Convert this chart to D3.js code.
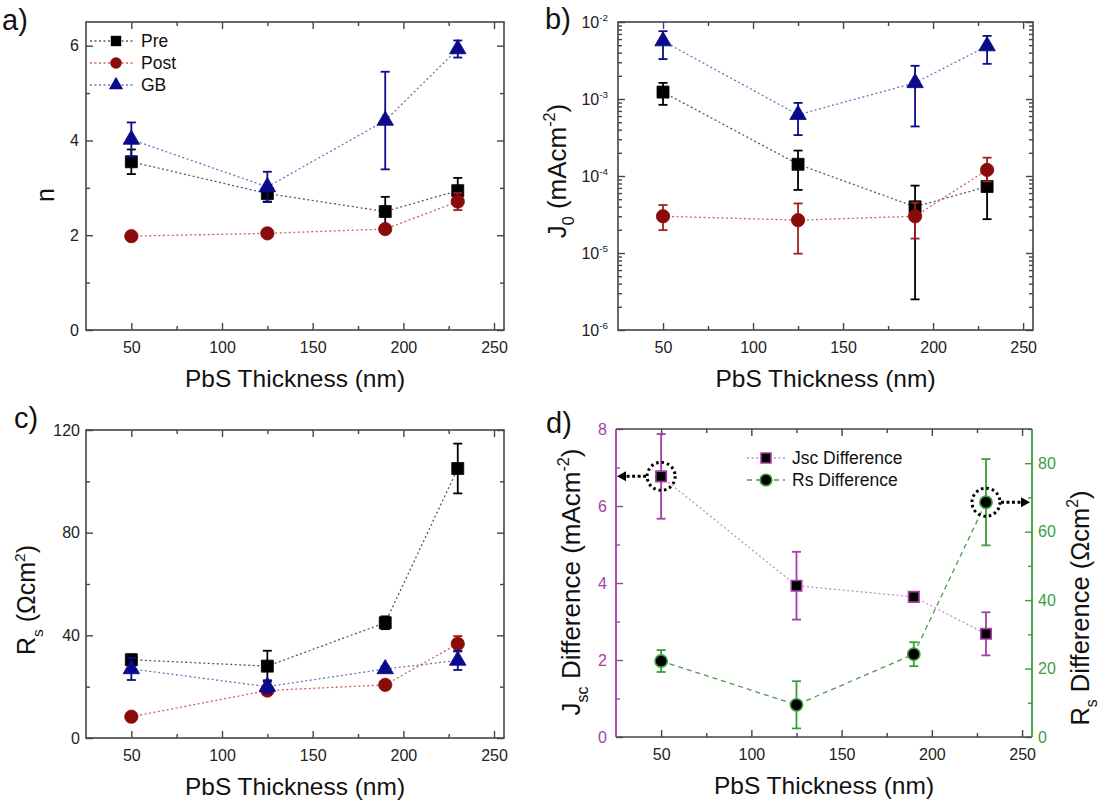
<!DOCTYPE html>
<html><head><meta charset="utf-8">
<script src="https://cdn.jsdelivr.net/npm/d3@7"></script>
<style>body{margin:0;background:#fff}svg{display:block}</style>
</head><body><svg id="c" width="1105" height="807"></svg>
<script>
// ---------------- data ----------------
const thickness = [50, 125, 190, 230];
const xTicks = [50, 100, 150, 200, 250];
const xMinor = [75, 125, 175, 225];

// a) ideality factor n
const nTicks = [0, 2, 4, 6];
const nMinor = [1, 3, 5];
const nPre = [3.55, 2.88, 2.50, 2.94];
const nPreErr = [0.26, 0.17, 0.31, 0.27];
const nPost = [1.98, 2.04, 2.13, 2.71];
const nPostErr = [0.05, 0.08, 0.08, 0.18];
const nGB = [4.02, 3.02, 4.42, 5.93];
const nGBErr = [0.36, 0.32, 1.03, 0.18];

// b) J0 (log), asymmetric error bars
const j0Ticks = [1e-6, 1e-5, 1e-4, 1e-3, 1e-2];
const j0TickExp = ["-6", "-5", "-4", "-3", "-2"];
const j0Pre = [1.23e-3, 1.42e-4, 3.98e-5, 7.3e-5];
const j0PreLo = [8.4e-4, 6.6e-5, 2.5e-6, 2.75e-5];
const j0PreHi = [1.62e-3, 2.14e-4, 7.5e-5, 1.2e-4];
const j0Post = [3.0e-5, 2.67e-5, 3.0e-5, 1.2e-4];
const j0PostLo = [1.98e-5, 9.8e-6, 1.54e-5, 8.5e-5];
const j0PostHi = [4.2e-5, 4.4e-5, 4.5e-5, 1.73e-4];
const j0GB = [5.65e-3, 6.25e-4, 1.62e-3, 4.87e-3];
const j0GBLo = [3.3e-3, 3.4e-4, 4.4e-4, 2.86e-3];
const j0GBHi = [7.6e-3, 8.9e-4, 2.7e-3, 6.6e-3];

// c) Rs
const rsTicks = [0, 40, 80, 120];
const rsMinor = [20, 60, 100];
const rsPre = [30.5, 28.0, 44.9, 105];
const rsPreErr = [2, 6, 2.5, 9.7];
const rsPost = [8.3, 18.5, 20.7, 36.7];
const rsPostErr = [0.8, 1, 1, 3];
const rsGB = [26.9, 20, 26.9, 30.2];
const rsGBErr = [4.3, 2.5, 1, 3.7];

// d) differences
const jscTicks = [0, 2, 4, 6, 8];
const jscMinor = [1, 3, 5, 7];
const rsDiffTicks = [0, 20, 40, 60, 80];
const rsDiffMinor = [10, 30, 50, 70, 90];
const jscDiff = [6.77, 3.93, 3.64, 2.68];
const jscDiffErr = [1.1, 0.88, 0.05, 0.56];
const rsDiff = [22.2, 9.4, 24.2, 68.6];
const rsDiffErr = [3.2, 6.9, 3.5, 12.6];

// ---------------- style ----------------
const FF = '"Liberation Sans", Arial, Helvetica, sans-serif';
const FRAME = "#444";
const C = {
  pre: "#000000", preLine: "#5a5a5a",
  post: "#8b0a0a", postErr: "#a02020", postLine: "#d06060",
  gb: "#0a0a8c", gbLine: "#6f72b8",
  purple: "#a43ea8", purpleLine: "#c98ccb",
  green: "#3a9e3a", greenLine: "#4a9a4a"
};
const svg = d3.select("#c").attr("font-family", FF);

function rich(g, x, y, parts, F, opts = {}) {
  const t = g.append("text").attr("x", x).attr("y", y).attr("font-size", F)
    .attr("text-anchor", opts.anchor || "start").attr("fill", opts.fill || "#111");
  if (opts.rotate) t.attr("transform", `rotate(${opts.rotate},${x},${y})`);
  let shift = 0;
  parts.forEach(([s, type]) => {
    const sp = t.append("tspan").text(s);
    const target = type === "sub" ? 0.3 * F : type === "sup" ? -0.42 * F : 0;
    sp.attr("dy", target - shift); shift = target;
    if (type) sp.attr("font-size", 0.62 * F);
  });
  return t;
}

function styleAxis(sel, color, textColor) {
  sel.select(".domain").remove();
  sel.attr("font-family", FF).attr("font-size", 16);
  sel.selectAll("line").attr("stroke", color).attr("stroke-width", 1.4);
  sel.selectAll("text").attr("fill", textColor || "#222");
}

function xAxes(g, x, T, B) {
  g.append("g").attr("transform", `translate(0,${B})`)
    .call(d3.axisBottom(x).tickValues(xTicks).tickSizeInner(-7).tickSizeOuter(0).tickPadding(12))
    .call(s => styleAxis(s, FRAME));
  g.append("g").attr("transform", `translate(0,${B})`)
    .call(d3.axisBottom(x).tickValues(xMinor).tickSizeInner(-4).tickSizeOuter(0).tickFormat(""))
    .call(s => styleAxis(s, FRAME));
  g.append("g").attr("transform", `translate(0,${T})`)
    .call(d3.axisTop(x).tickValues(xTicks).tickSizeInner(-7).tickSizeOuter(0).tickFormat(""))
    .call(s => styleAxis(s, FRAME));
  g.append("g").attr("transform", `translate(0,${T})`)
    .call(d3.axisTop(x).tickValues(xMinor).tickSizeInner(-4).tickSizeOuter(0).tickFormat(""))
    .call(s => styleAxis(s, FRAME));
}

function yAxesLin(g, y, L, R, ticks, minor, opts = {}) {
  const lc = opts.leftColor || FRAME, rc = opts.rightColor || FRAME;
  g.append("g").attr("transform", `translate(${L},0)`)
    .call(d3.axisLeft(y).tickValues(ticks).tickSizeInner(-7).tickSizeOuter(0).tickPadding(opts.pad || 7).tickFormat(d3.format("d")))
    .call(s => styleAxis(s, lc, opts.leftText));
  g.append("g").attr("transform", `translate(${L},0)`)
    .call(d3.axisLeft(y).tickValues(minor).tickSizeInner(-4).tickSizeOuter(0).tickFormat(""))
    .call(s => styleAxis(s, lc));
  if (!opts.noRight) {
    g.append("g").attr("transform", `translate(${R},0)`)
      .call(d3.axisRight(y).tickValues(ticks).tickSizeInner(-7).tickSizeOuter(0).tickFormat(""))
      .call(s => styleAxis(s, rc));
    g.append("g").attr("transform", `translate(${R},0)`)
      .call(d3.axisRight(y).tickValues(minor).tickSizeInner(-4).tickSizeOuter(0).tickFormat(""))
      .call(s => styleAxis(s, rc));
  }
}

function frame(g, L, R, T, B) {
  g.append("rect").attr("x", L).attr("y", T).attr("width", R - L).attr("height", B - T)
    .attr("fill", "none").attr("stroke", FRAME).attr("stroke-width", 1.6);
}

function series(g, x, y, vals, lo, hi, o) {
  const pts = thickness.map((t, i) => ({ x: t, y: vals[i], lo: lo[i], hi: hi[i] }));
  g.append("path").datum(pts)
    .attr("d", d3.line().x(d => x(d.x)).y(d => y(d.y)))
    .attr("fill", "none").attr("stroke", o.line).attr("stroke-width", 1.3)
    .attr("stroke-dasharray", o.dash || "2,2.5");
  const eb = g.append("g").attr("stroke", o.err).attr("stroke-width", 1.8);
  pts.forEach(d => {
    eb.append("line").attr("x1", x(d.x)).attr("x2", x(d.x)).attr("y1", y(d.lo)).attr("y2", y(d.hi));
    [d.lo, d.hi].forEach(v => eb.append("line").attr("x1", x(d.x) - 4.5).attr("x2", x(d.x) + 4.5).attr("y1", y(v)).attr("y2", y(v)));
  });
  g.append("g").selectAll("path").data(pts).join("path")
    .attr("transform", d => `translate(${x(d.x)},${y(d.y)})`)
    .attr("d", d3.symbol(o.symbol).size(o.size))
    .attr("fill", o.fill).attr("stroke", o.stroke || o.fill).attr("stroke-width", o.sw || 0.8);
}
function sym(vals, err) { return [vals.map((v, i) => v - err[i]), vals.map((v, i) => v + err[i])]; }

const PRE = { symbol: d3.symbolSquare, size: 144, fill: C.pre, err: C.pre, line: C.preLine };
const POST = { symbol: d3.symbolCircle, size: 140, fill: C.post, err: C.postErr, line: C.postLine };
const GB = { symbol: d3.symbolTriangle, size: 118, fill: C.gb, err: C.gb, line: C.gbLine };

function xTitle(g, L, R, B) {
  g.append("text").attr("x", (L + R) / 2).attr("y", B + 57).attr("text-anchor", "middle")
    .attr("font-size", 24.5).attr("fill", "#111").text("PbS Thickness (nm)");
}
function panelLabel(g, x, y, s) {
  g.append("text").attr("x", x).attr("y", y).attr("font-size", 29).attr("fill", "#111").text(s);
}

// ---------------- panel a ----------------
{
  const L = 86, R = 504, T = 22, B = 330;
  const g = svg.append("g");
  const x = d3.scaleLinear().domain([25, 255.5]).range([L, R]);
  const y = d3.scaleLinear().domain([0, 6.5]).range([B, T]);
  xAxes(g, x, T, B);
  yAxesLin(g, y, L, R, nTicks, nMinor, { pad: 7 });
  frame(g, L, R, T, B);
  series(g, x, y, nPre, ...sym(nPre, nPreErr), PRE);
  series(g, x, y, nPost, ...sym(nPost, nPostErr), POST);
  series(g, x, y, nGB, ...sym(nGB, nGBErr), GB);
  xTitle(g, L, R, B);
  g.append("text").attr("transform", "translate(54,195) rotate(-90)").attr("text-anchor", "middle")
    .attr("font-size", 25).attr("fill", "#111").text("n");
  panelLabel(g, 2, 30, "a)");
  // legend
  const leg = [["Pre", PRE, 41], ["Post", POST, 63], ["GB", GB, 85]];
  leg.forEach(([name, o, yy]) => {
    g.append("line").attr("x1", 90).attr("x2", 135).attr("y1", yy).attr("y2", yy)
      .attr("stroke", o.line).attr("stroke-width", 1.3).attr("stroke-dasharray", "2,2.5");
    g.append("path").attr("transform", `translate(116,${yy})`)
      .attr("d", d3.symbol(o.symbol).size(o.size * 0.75)).attr("fill", o.fill);
    g.append("text").attr("x", 141).attr("y", yy + 6).attr("font-size", 17.5).attr("fill", "#111").text(name);
  });
}

// ---------------- panel b ----------------
{
  const L = 618, R = 1033, T = 22, B = 330;
  const g = svg.append("g");
  const x = d3.scaleLinear().domain([25, 255.5]).range([L, R]);
  const y = d3.scaleLog().domain([1e-6, 1e-2]).range([B, T]);
  xAxes(g, x, T, B);
  const minorLog = [];
  for (let e = -6; e < -2; e++) for (let m = 2; m <= 9; m++) minorLog.push(m * Math.pow(10, e));
  [[L, d3.axisLeft], [R, d3.axisRight]].forEach(([pos, ax]) => {
    g.append("g").attr("transform", `translate(${pos},0)`)
      .call(ax(y).tickValues(j0Ticks).tickSizeInner(-7).tickSizeOuter(0).tickFormat(""))
      .call(s => styleAxis(s, FRAME));
    g.append("g").attr("transform", `translate(${pos},0)`)
      .call(ax(y).tickValues(minorLog).tickSizeInner(-4).tickSizeOuter(0).tickFormat(""))
      .call(s => styleAxis(s, FRAME));
  });
  j0Ticks.forEach((v, i) => {
    rich(g, L - 10, y(v) + 6, [["10", ""], [j0TickExp[i], "sup"]], 16, { anchor: "end", fill: "#222" });
  });
  frame(g, L, R, T, B);
  series(g, x, y, j0Pre, j0PreLo, j0PreHi, PRE);
  series(g, x, y, j0Post, j0PostLo, j0PostHi, POST);
  series(g, x, y, j0GB, j0GBLo, j0GBHi, GB);
  xTitle(g, L, R, B);
  rich(g, 566, 171, [["J", ""], ["0", "sub"], [" (mAcm", ""], ["-2", "sup"], [")", ""]], 26, { anchor: "middle", rotate: -90 });
  panelLabel(g, 545, 29, "b)");
}

// ---------------- panel c ----------------
{
  const L = 86, R = 504, T = 430, B = 738;
  const g = svg.append("g");
  const x = d3.scaleLinear().domain([25, 255.5]).range([L, R]);
  const y = d3.scaleLinear().domain([0, 120]).range([B, T]);
  xAxes(g, x, T, B);
  yAxesLin(g, y, L, R, rsTicks, rsMinor, { pad: 6 });
  frame(g, L, R, T, B);
  series(g, x, y, rsPre, ...sym(rsPre, rsPreErr), PRE);
  series(g, x, y, rsPost, ...sym(rsPost, rsPostErr), POST);
  series(g, x, y, rsGB, ...sym(rsGB, rsGBErr), GB);
  xTitle(g, L, R, B);
  rich(g, 35, 600, [["R", ""], ["s", "sub"], [" (Ωcm", ""], ["2", "sup"], [")", ""]], 25, { anchor: "middle", rotate: -90 });
  panelLabel(g, 14, 428, "c)");
}

// ---------------- panel d ----------------
{
  const L = 616, R = 1032, T = 429, B = 737;
  const g = svg.append("g");
  const x = d3.scaleLinear().domain([25, 255.5]).range([L, R]);
  const yL = d3.scaleLinear().domain([0, 8]).range([B, T]);
  const yR = d3.scaleLinear().domain([0, 90]).range([B, T]);
  xAxes(g, x, T, B);
  yAxesLin(g, yL, L, R, jscTicks, jscMinor, { pad: 9, leftColor: C.purple, leftText: C.purple, noRight: true });
  g.append("g").attr("transform", `translate(${R},0)`)
    .call(d3.axisRight(yR).tickValues(rsDiffTicks).tickSizeInner(-7).tickSizeOuter(0).tickPadding(6))
    .call(s => styleAxis(s, C.green, C.green));
  g.append("g").attr("transform", `translate(${R},0)`)
    .call(d3.axisRight(yR).tickValues(rsDiffMinor).tickSizeInner(-4).tickSizeOuter(0).tickFormat(""))
    .call(s => styleAxis(s, C.green));
  // frame: top/bottom gray, left purple, right green
  g.append("line").attr("x1", L).attr("x2", R).attr("y1", T).attr("y2", T).attr("stroke", FRAME).attr("stroke-width", 1.6);
  g.append("line").attr("x1", L).attr("x2", R).attr("y1", B).attr("y2", B).attr("stroke", FRAME).attr("stroke-width", 1.6);
  g.append("line").attr("x1", L).attr("x2", L).attr("y1", T).attr("y2", B).attr("stroke", C.purple).attr("stroke-width", 1.8);
  g.append("line").attr("x1", R).attr("x2", R).attr("y1", T).attr("y2", B).attr("stroke", C.green).attr("stroke-width", 1.8);

  const JSC = { symbol: d3.symbolSquare, size: 110, fill: "#000", stroke: C.purple, sw: 1.6, err: C.purple, line: C.purpleLine };
  const RSD = { symbol: d3.symbolCircle, size: 118, fill: "#000", stroke: C.green, sw: 1.6, err: C.green, line: C.greenLine, dash: "5,4" };
  series(g, x, yR, rsDiff, ...sym(rsDiff, rsDiffErr), RSD);
  series(g, x, yL, jscDiff, ...sym(jscDiff, jscDiffErr), JSC);

  // highlight circles and arrows
  const cx1 = x(thickness[0]), cy1 = yL(jscDiff[0]);
  const cx2 = x(thickness[3]), cy2 = yR(rsDiff[3]);
  [[cx1, cy1], [cx2, cy2]].forEach(([cx, cy]) => {
    g.append("circle").attr("cx", cx).attr("cy", cy).attr("r", 14).attr("fill", "none")
      .attr("stroke", "#000").attr("stroke-width", 3).attr("stroke-dasharray", "2.5,3");
  });
  g.append("line").attr("x1", cx1 - 15).attr("x2", L + 8).attr("y1", cy1).attr("y2", cy1)
    .attr("stroke", "#000").attr("stroke-width", 3).attr("stroke-dasharray", "3,2.5");
  g.append("path").attr("d", `M${L + 1},${cy1} L${L + 10},${cy1 - 5} L${L + 10},${cy1 + 5} Z`).attr("fill", "#000");
  g.append("line").attr("x1", cx2 + 15).attr("x2", R - 8).attr("y1", cy2).attr("y2", cy2)
    .attr("stroke", "#000").attr("stroke-width", 3).attr("stroke-dasharray", "3,2.5");
  g.append("path").attr("d", `M${R - 2},${cy2} L${R - 11},${cy2 - 5} L${R - 11},${cy2 + 5} Z`).attr("fill", "#000");

  // legend
  const leg = [["Jsc Difference", JSC, 458], ["Rs Difference", RSD, 480]];
  leg.forEach(([name, o, yy]) => {
    g.append("line").attr("x1", 747).attr("x2", 785).attr("y1", yy).attr("y2", yy)
      .attr("stroke", o.line).attr("stroke-width", 1.3).attr("stroke-dasharray", o.dash || "2,2.5");
    g.append("path").attr("transform", `translate(766,${yy})`)
      .attr("d", d3.symbol(o.symbol).size(o.size * 0.9)).attr("fill", o.fill).attr("stroke", o.stroke).attr("stroke-width", o.sw);
    g.append("text").attr("x", 792).attr("y", yy + 6).attr("font-size", 17.5).attr("fill", "#111").text(name);
  });

  xTitle(g, L, R, B);
  rich(g, 580, 582, [["J", ""], ["sc", "sub"], [" Difference (mAcm", ""], ["-2", "sup"], [")", ""]], 26, { anchor: "middle", rotate: -90 });
  rich(g, 1089, 608, [["R", ""], ["s", "sub"], [" Difference (Ωcm", ""], ["2", "sup"], [")", ""]], 25.5, { anchor: "middle", rotate: -90 });
  panelLabel(g, 546, 433, "d)");
}
</script>
</body></html>
